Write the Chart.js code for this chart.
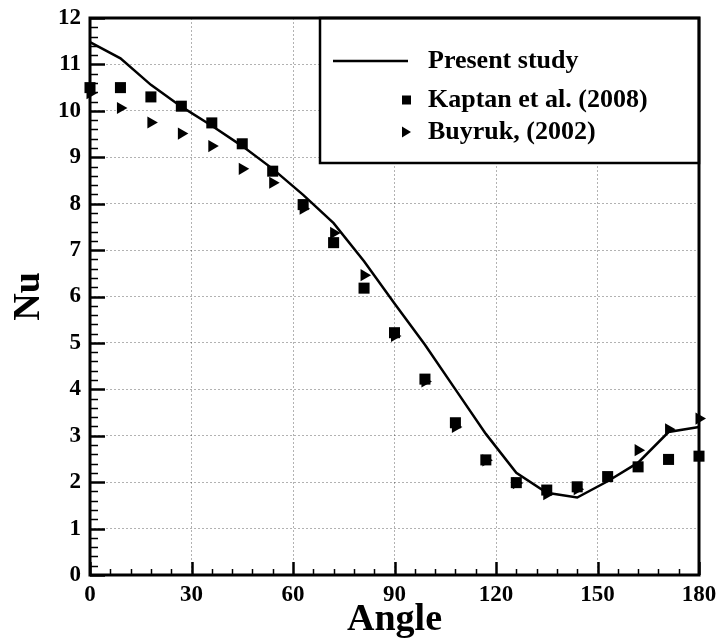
<!DOCTYPE html>
<html>
<head>
<meta charset="utf-8">
<script src="https://cdn.jsdelivr.net/npm/chart.js@4.4.1/dist/chart.umd.min.js"></script>
<style>
  html, body { margin: 0; padding: 0; background: #fff; }
  #wrap { width: 719px; height: 639px; }
</style>
</head>
<body>
<div id="wrap"><canvas id="nu"></canvas></div>
<script>
const angles = [0, 9, 18, 27, 36, 45, 54, 63, 72, 81, 90, 99, 108, 117, 126, 135, 144, 153, 162, 171, 180];
const presentStudy = [11.48, 11.13, 10.56, 10.09, 9.68, 9.24, 8.75, 8.19, 7.58, 6.76, 5.85, 4.96, 4.0, 3.04, 2.2, 1.77, 1.67, 2.02, 2.42, 3.08, 3.19];
const kaptan = [10.5, 10.5, 10.3, 10.1, 9.74, 9.29, 8.7, 7.98, 7.16, 6.18, 5.22, 4.22, 3.28, 2.48, 1.99, 1.83, 1.9, 2.12, 2.33, 2.49, 2.56];
const buyruk = [10.38, 10.06, 9.75, 9.51, 9.24, 8.75, 8.45, 7.89, 7.37, 6.46, 5.15, 4.17, 3.19, 2.47, 1.98, 1.74, 1.85, 2.1, 2.69, 3.14, 3.37];
const xTicks = [0, 30, 60, 90, 120, 150, 180];
const yTicks = [0, 1, 2, 3, 4, 5, 6, 7, 8, 9, 10, 11, 12];

const serif = "'Liberation Serif', 'Times New Roman', serif";

function pairs(ys) {
  return angles.map((a, i) => ({ x: a, y: ys[i] }));
}

// inside tick marks, legend box and frame
const framePlugin = {
  id: "frame",
  afterDatasetsDraw(chart) {
    const ctx = chart.ctx;
    const area = chart.chartArea;
    const xs = chart.scales.x;
    const ys = chart.scales.y;
    ctx.save();
    ctx.strokeStyle = "#000";

    // y ticks
    for (let i = 0; i <= 60; i++) {
      const v = i * 0.2;
      const py = Math.round(ys.getPixelForValue(v)) + 0.5;
      const major = i % 5 === 0;
      ctx.lineWidth = major ? 2.5 : 1.5;
      ctx.beginPath();
      ctx.moveTo(area.left, py);
      ctx.lineTo(area.left + (major ? 15 : 8), py);
      ctx.stroke();
    }
    // x ticks
    for (let i = 0; i <= 30; i++) {
      const v = i * 6;
      const px = Math.round(xs.getPixelForValue(v)) + 0.5;
      const major = i % 5 === 0;
      ctx.lineWidth = major ? 2.5 : 1.5;
      ctx.beginPath();
      ctx.moveTo(px, area.bottom);
      ctx.lineTo(px, area.bottom - (major ? 13 : 6));
      ctx.stroke();
    }

    // legend
    const bx = 320, by = area.top, bw = area.right - 320, bh = 145;
    ctx.fillStyle = "#fff";
    ctx.fillRect(bx, by, bw, bh);
    ctx.lineWidth = 2.5;
    ctx.strokeRect(bx, by, bw, bh);

    const ds = chart.data.datasets;
    const rows = [61, 100, 132];
    ctx.fillStyle = "#000";
    ctx.font = "bold 26px " + serif;
    ctx.textBaseline = "middle";
    ctx.textAlign = "left";

    ctx.lineWidth = 2.5;
    ctx.beginPath();
    ctx.moveTo(333, rows[0]);
    ctx.lineTo(408, rows[0]);
    ctx.stroke();
    ctx.fillText(ds[0].label, 428, rows[0]);

    ctx.fillRect(402, rows[1] - 4.5, 9, 9);
    ctx.fillText(ds[1].label, 428, rows[1]);

    ctx.beginPath();
    ctx.moveTo(402, rows[2] - 5.5);
    ctx.lineTo(411, rows[2]);
    ctx.lineTo(402, rows[2] + 5.5);
    ctx.closePath();
    ctx.fill();
    ctx.fillText(ds[2].label, 428, rows[2]);

    // frame
    ctx.lineWidth = 3;
    ctx.strokeRect(area.left, area.top, area.right - area.left, area.bottom - area.top);
    ctx.restore();
  }
};

new Chart(document.getElementById("nu"), {
  type: "scatter",
  data: {
    datasets: [
      {
        label: "Present study",
        data: pairs(presentStudy),
        showLine: true,
        borderColor: "#000",
        borderWidth: 2.5,
        pointRadius: 0,
        tension: 0,
        clip: false
      },
      {
        label: "Kaptan et al. (2008)",
        data: pairs(kaptan),
        pointStyle: "rect",
        pointRadius: 7.8,
        backgroundColor: "#000",
        borderColor: "#000",
        borderWidth: 0,
        clip: false
      },
      {
        label: "Buyruk, (2002)",
        data: pairs(buyruk),
        pointStyle: "triangle",
        rotation: 90,
        pointRadius: 7,
        backgroundColor: "#000",
        borderColor: "#000",
        borderWidth: 0,
        clip: false
      }
    ]
  },
  options: {
    responsive: true,
    maintainAspectRatio: false,
    animation: false,
    layout: { padding: { left: 0, right: 20, top: 18, bottom: 0 } },
    plugins: {
      legend: { display: false },
      tooltip: { enabled: false }
    },
    scales: {
      x: {
        type: "linear",
        min: 0,
        max: 180,
        afterBuildTicks: s => { s.ticks = xTicks.map(v => ({ value: v })); },
        afterFit: s => { s.height = 64; s.paddingLeft = 0; s.paddingRight = 0; },
        grid: { color: "rgba(0,0,0,0.3)", lineWidth: 1, drawTicks: false },
        border: { display: false, dash: [2, 2] },
        ticks: {
          padding: 6,
          color: "#000",
          font: { family: serif, size: 23, weight: "bold" }
        },
        title: {
          display: true,
          text: "Angle",
          color: "#000",
          padding: { top: 4, bottom: 0 },
          font: { family: serif, size: 38, weight: "bold", lineHeight: 1 }
        }
      },
      y: {
        type: "linear",
        min: 0,
        max: 12,
        afterBuildTicks: s => { s.ticks = yTicks.map(v => ({ value: v })); },
        afterFit: s => { s.width = 90; s.paddingTop = 0; s.paddingBottom = 0; },
        grid: { color: "rgba(0,0,0,0.3)", lineWidth: 1, drawTicks: false },
        border: { display: false, dash: [2, 2] },
        ticks: {
          padding: 9,
          color: "#000",
          font: { family: serif, size: 23, weight: "bold" }
        },
        title: {
          display: true,
          text: "Nu",
          color: "#000",
          padding: { top: 10, bottom: 0 },
          font: { family: serif, size: 38, weight: "bold", lineHeight: 1 }
        }
      }
    }
  },
  plugins: [framePlugin]
});
</script>
</body>
</html>
